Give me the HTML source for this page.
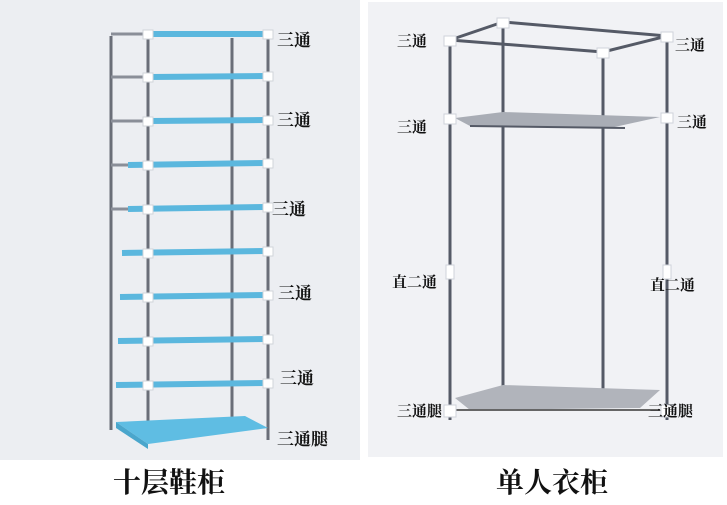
<!DOCTYPE html>
<html><head><meta charset="utf-8"><style>
html,body{margin:0;padding:0;background:#fff}
svg{display:block}
text{font-family:"Liberation Serif","Noto Serif CJK SC","Noto Sans CJK SC",serif;fill:#111}
</style></head><body>
<svg width="727" height="505" viewBox="0 0 727 505">
<rect width="727" height="505" fill="#fff"/>
<rect x="0" y="0" width="360" height="460" fill="#eceef2"/>
<rect x="368" y="2" width="355" height="455" fill="#f1f2f5"/>
<!-- left shoe rack -->
<g stroke="#6a6e78" stroke-width="3">
<line x1="111" y1="36" x2="111" y2="430"/>
<line x1="148" y1="36" x2="148" y2="440"/>
<line x1="232" y1="38" x2="232" y2="425"/>
<line x1="268" y1="36" x2="268" y2="440"/>
</g>
<g stroke="#8a8e98" stroke-width="3">
<line x1="111" y1="34" x2="148" y2="34"/>
<line x1="111" y1="77" x2="148" y2="77"/>
<line x1="111" y1="121" x2="148" y2="121"/>
<line x1="111" y1="165" x2="130" y2="165"/>
<line x1="111" y1="209" x2="130" y2="209"/>
</g>
<g stroke="#5bb7de" stroke-width="6">
<line x1="150" y1="34" x2="265" y2="34"/>
<line x1="150" y1="77" x2="265" y2="76"/>
<line x1="150" y1="121" x2="265" y2="120"/>
<line x1="128" y1="165" x2="265" y2="163"/>
<line x1="128" y1="209" x2="265" y2="207"/>
<line x1="122" y1="253" x2="265" y2="251"/>
<line x1="120" y1="297" x2="265" y2="295"/>
<line x1="118" y1="341" x2="265" y2="339"/>
<line x1="116" y1="385" x2="265" y2="383"/>
</g>
<polygon points="116,422 245,416 268,428 148,444" fill="#5fbde3"/>
<polygon points="116,422 148,444 148,449 116,428" fill="#4aa6cc"/>
<g fill="#fff" stroke="#d0d4da" stroke-width="1">
<rect x="143" y="30" width="10" height="9"/><rect x="263" y="30" width="10" height="9"/>
<rect x="143" y="73" width="10" height="9"/><rect x="263" y="72" width="10" height="9"/>
<rect x="143" y="117" width="10" height="9"/><rect x="263" y="116" width="10" height="9"/>
<rect x="143" y="161" width="10" height="9"/><rect x="263" y="159" width="10" height="9"/>
<rect x="143" y="205" width="10" height="9"/><rect x="263" y="203" width="10" height="9"/>
<rect x="143" y="249" width="10" height="9"/><rect x="263" y="247" width="10" height="9"/>
<rect x="143" y="293" width="10" height="9"/><rect x="263" y="291" width="10" height="9"/>
<rect x="143" y="337" width="10" height="9"/><rect x="263" y="335" width="10" height="9"/>
<rect x="143" y="381" width="10" height="9"/><rect x="263" y="379" width="10" height="9"/>
</g>
<!-- left labels -->
<g font-size="17" font-weight="bold">
<text x="277" y="46">三通</text>
<text x="277" y="126">三通</text>
<text x="272" y="215">三通</text>
<text x="278" y="299">三通</text>
<text x="280" y="384">三通</text>
<text x="277" y="445">三通腿</text>
</g>
<text x="113" y="492" font-size="28" font-weight="bold">十层鞋柜</text>
<!-- right wardrobe -->
<g stroke="#555a66" stroke-width="3" fill="none">
<line x1="450" y1="40" x2="450" y2="420"/>
<line x1="503" y1="22" x2="503" y2="392"/>
<line x1="603" y1="52" x2="603" y2="392"/>
<line x1="667" y1="36" x2="667" y2="420"/>
<line x1="450" y1="40" x2="503" y2="22"/>
<line x1="503" y1="22" x2="667" y2="36"/>
<line x1="450" y1="40" x2="603" y2="52"/>
<line x1="603" y1="52" x2="667" y2="36"/>
</g>
<polygon points="455,118 503,112 660,117 610,128 470,126" fill="#a9adb5"/>
<line x1="470" y1="126" x2="625" y2="128" stroke="#555a66" stroke-width="2"/>
<polygon points="455,398 503,385 660,390 640,408 470,410" fill="#b1b4bb"/>
<line x1="455" y1="410" x2="660" y2="410" stroke="#666" stroke-width="2"/>
<g fill="#fff" stroke="#cfd3da" stroke-width="1">
<rect x="444" y="36" width="12" height="10"/><rect x="497" y="18" width="12" height="10"/>
<rect x="597" y="48" width="12" height="10"/><rect x="661" y="32" width="12" height="10"/>
<rect x="444" y="114" width="12" height="10"/><rect x="661" y="113" width="12" height="10"/>
<rect x="446" y="265" width="8" height="14"/><rect x="663" y="265" width="8" height="14"/>
<rect x="444" y="405" width="12" height="12"/><rect x="661" y="405" width="12" height="12"/>
</g>
<g font-size="15" font-weight="bold">
<text x="397" y="46">三通</text>
<text x="675" y="50">三通</text>
<text x="397" y="132">三通</text>
<text x="677" y="127">三通</text>
<text x="392" y="287">直二通</text>
<text x="650" y="290">直二通</text>
<text x="397" y="416">三通腿</text>
<text x="648" y="416">三通腿</text>
</g>
<text x="496" y="492" font-size="28" font-weight="bold">单人衣柜</text>
</svg>
</body></html>
